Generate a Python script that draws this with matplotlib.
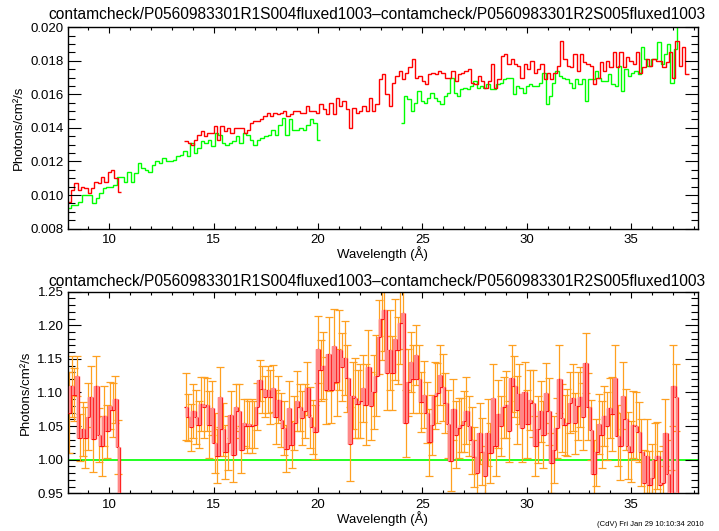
import numpy as np
import matplotlib
matplotlib.use('Agg')
import matplotlib.pyplot as plt
from matplotlib.ticker import MultipleLocator, FormatStrFormatter

plt.rcParams['font.family'] = ['Liberation Sans', 'DejaVu Sans']

title = 'contamcheck/P0560983301R1S004fluxed1003\u2013contamcheck/P0560983301R2S005fluxed1003'
stamp = '(CdV) Fri Jan 29 10:10:34 2010'

# R1 fluxed spectrum (red), two pieces, wavelength range in Angstrom
r1_a_range = (8.0, 10.56)
r1_a = [0.0096, 0.0103, 0.0107, 0.0103, 0.0105, 0.0104, 0.0101, 0.0104, 0.0108, 0.0107,
        0.0111, 0.0108, 0.0114, 0.0115, 0.0110, 0.0102]
r1_b_range = (13.59, 37.75)
r1_b = [0.0132, 0.0131, 0.0130, 0.0133, 0.0136, 0.0138, 0.0135, 0.0137, 0.0137, 0.0141,
        0.0133, 0.0141, 0.0138,
        0.0140, 0.0137, 0.0140, 0.0140, 0.0140, 0.0137, 0.0139, 0.0143, 0.0144, 0.0144,
        0.0145, 0.0147, 0.0149, 0.0147, 0.0149, 0.0148, 0.0149, 0.0150, 0.0147, 0.0148,
        0.0150, 0.0150, 0.0149, 0.0149, 0.0153, 0.0150, 0.0150, 0.0149, 0.0154, 0.0151,
        0.0148, 0.0155, 0.0148, 0.0158, 0.0153, 0.0156, 0.0151, 0.0140, 0.0152, 0.0149,
        0.0150, 0.0153, 0.0150, 0.0158, 0.0150, 0.0154, 0.0169, 0.0172, 0.0160,
        0.0153, 0.0167, 0.0171, 0.0174, 0.0169, 0.0173, 0.0176, 0.0181, 0.0170, 0.0171,
        0.0168, 0.0166, 0.0172, 0.0173, 0.0172, 0.0174, 0.0173, 0.0170, 0.0170, 0.0174,
        0.0168, 0.0172, 0.0173, 0.0174, 0.0175, 0.0167, 0.0166, 0.0171, 0.0168, 0.0164,
        0.0168, 0.0178, 0.0164, 0.0169, 0.0183, 0.0184, 0.0178, 0.0181, 0.0178, 0.0177,
        0.0170, 0.0178, 0.0175, 0.0180, 0.0173, 0.0175, 0.0178, 0.0169,
        0.0173, 0.0169, 0.0173, 0.0177, 0.0192, 0.0181, 0.0177, 0.0176, 0.0184, 0.0174,
        0.0184, 0.0179, 0.0178, 0.0177, 0.0166, 0.0170, 0.0179, 0.0174, 0.0180, 0.0176,
        0.0185, 0.0176, 0.0185, 0.0176, 0.0182, 0.0180, 0.0178, 0.0185, 0.0173, 0.0176,
        0.0181, 0.0177, 0.0181, 0.0180, 0.0180, 0.0176, 0.0179, 0.0185, 0.0170, 0.0192,
        0.0177, 0.0188, 0.0172]

# R2 fluxed spectrum (green)
r2_a_range = (8.0, 20.1)
r2_a = [0.0092, 0.0094, 0.0094, 0.0096, 0.0100, 0.0100, 0.0100, 0.0095, 0.0098, 0.0101,
        0.0104, 0.0105, 0.0105, 0.0106, 0.0111, 0.0111, 0.0108, 0.0114, 0.0108, 0.0113,
        0.0119, 0.0116, 0.0115, 0.0114, 0.0118, 0.0120, 0.0119, 0.0122, 0.0120, 0.0120,
        0.0121, 0.0123, 0.0124, 0.0126, 0.0123, 0.0131, 0.0125, 0.0128, 0.0132, 0.0131,
        0.0133, 0.0129, 0.0137,
        0.0136, 0.0131, 0.0130, 0.0131, 0.0132, 0.0135, 0.0131, 0.0137, 0.0136, 0.0133,
        0.0130, 0.0133, 0.0134, 0.0135, 0.0136, 0.0139, 0.0136, 0.0142, 0.0146, 0.0136,
        0.0145, 0.0139, 0.0139, 0.0140, 0.0139, 0.0142, 0.0145, 0.0143, 0.0133]
r2_b_range = (23.97, 37.35)
r2_b = [0.0143, 0.0159, 0.0157, 0.0150, 0.0155, 0.0162, 0.0156, 0.0155, 0.0158, 0.0161,
        0.0158, 0.0156, 0.0154, 0.0159, 0.0161, 0.0170, 0.0161, 0.0159, 0.0163, 0.0164,
        0.0163, 0.0165, 0.0168, 0.0164, 0.0165, 0.0164, 0.0166, 0.0163, 0.0163, 0.0166,
        0.0167, 0.0169, 0.0170, 0.0170, 0.0160, 0.0165, 0.0164, 0.0161, 0.0165, 0.0166,
        0.0165, 0.0165, 0.0167, 0.0173, 0.0154,
        0.0159, 0.0167, 0.0174, 0.0171, 0.0170, 0.0169, 0.0167, 0.0164, 0.0169, 0.0166,
        0.0169, 0.0156, 0.0169, 0.0169, 0.0174, 0.0170, 0.0168, 0.0168, 0.0172, 0.0166,
        0.0165, 0.0177, 0.0162, 0.0175, 0.0171, 0.0173, 0.0174, 0.0172, 0.0188, 0.0181,
        0.0177, 0.0181, 0.0181, 0.0191, 0.0178, 0.0184, 0.0190, 0.0167, 0.0187, 0.0215]

# ratio R1/R2 with errors
ratio_a_range = (8.0, 10.62)
ratio_a = [1.070, 1.109, 1.097, 1.125, 1.033, 1.046, 1.033, 1.064, 1.094, 1.031,
           1.109, 1.037, 1.020, 1.065, 1.042, 1.080, 1.074, 1.090, 1.019, 0.850]
ratio_a_err = [0.060, 0.045, 0.040, 0.030, 0.035, 0.040, 0.045, 0.050, 0.045, 0.050,
               0.045, 0.040, 0.045, 0.045, 0.040, 0.035, 0.040, 0.035, 0.040, 0.040]
ratio_b_range = (13.59, 37.33)
ratio_b = [1.079, 1.063, 1.048, 1.072, 1.064, 1.052, 1.083, 1.078, 1.082, 1.052,
           1.077, 1.025, 1.005, 1.093, 1.045, 1.012,
           1.025, 1.067, 1.007, 1.078, 1.072, 1.015, 1.055, 1.050, 1.053, 1.050,
           1.052, 1.079, 1.118, 1.105, 1.094, 1.104, 1.093, 1.106, 1.063, 1.089,
           1.059, 1.047, 1.016, 1.077, 1.022, 1.055, 1.087, 1.078, 1.062, 1.072,
           1.106, 1.063, 1.049, 1.041, 1.164, 1.133, 1.140, 1.103, 1.157, 1.104,
           1.169, 1.115, 1.163, 1.138, 1.151, 1.121, 1.024, 1.095, 1.092, 1.083,
           1.088, 1.106, 1.082, 1.138, 1.080, 1.101, 1.125, 1.182, 1.209, 1.222, 1.129,
           1.163, 1.129, 1.179, 1.163, 1.203, 1.219, 1.054, 1.115, 1.145, 1.120,
           1.156, 1.120, 1.086, 1.097, 1.070, 1.026, 1.052, 1.095, 1.099, 1.126,
           1.108, 1.084, 1.053, 0.998, 1.075, 1.037, 1.047, 1.052, 1.057, 1.073,
           1.050, 1.029, 1.004, 0.980, 1.039, 1.012, 0.976, 1.040, 1.010, 1.092,
           1.021, 1.068, 1.050, 1.078, 1.082, 1.042, 1.121, 1.109, 1.074, 1.098,
           1.047, 1.101, 1.053, 1.089, 1.084, 1.020, 1.045, 1.072, 1.037, 1.099,
           1.072, 0.995, 1.015, 1.047, 1.120, 1.062, 1.052, 1.055, 1.085, 1.092,
           1.054, 1.080, 1.093, 1.064, 1.144, 1.079, 1.044, 0.979, 1.011, 1.053,
           1.037, 1.065, 1.050, 1.077, 1.068, 1.121, 1.036, 1.020, 1.095, 1.060,
           1.021, 1.012, 1.052, 1.050, 1.041, 1.011, 0.965, 1.006, 0.963, 0.973,
           0.999, 1.006, 0.963, 0.965, 1.040, 0.979, 0.930, 1.110, 1.093, 0.850]
ratio_b_err = [0.050, 0.035, 0.035, 0.040, 0.040, 0.035, 0.040, 0.045, 0.040, 0.050,
               0.040, 0.045, 0.040, 0.045, 0.040, 0.040,
               0.040, 0.035, 0.040, 0.035, 0.040, 0.035, 0.035, 0.040, 0.035, 0.040,
               0.035, 0.035, 0.030, 0.035, 0.030, 0.035, 0.040, 0.035, 0.040, 0.035,
               0.040, 0.040, 0.035, 0.040, 0.035, 0.040, 0.045, 0.035, 0.040, 0.040,
               0.040, 0.045, 0.040, 0.040, 0.050, 0.045, 0.050, 0.050, 0.055, 0.050,
               0.055, 0.050, 0.060, 0.050, 0.055, 0.050, 0.055, 0.050, 0.060, 0.050,
               0.055, 0.050, 0.060, 0.055, 0.050, 0.055, 0.060, 0.055, 0.060, 0.060, 0.055,
               0.060, 0.055, 0.060, 0.050, 0.060, 0.055, 0.050, 0.050, 0.045, 0.050,
               0.045, 0.050, 0.045, 0.050, 0.045, 0.050, 0.045, 0.050, 0.045, 0.045,
               0.050, 0.045, 0.050, 0.045, 0.045, 0.050, 0.045, 0.040, 0.045, 0.050,
               0.045, 0.050, 0.045, 0.050, 0.045, 0.050, 0.045, 0.050, 0.045, 0.050,
               0.045, 0.050, 0.045, 0.045, 0.050, 0.045, 0.050, 0.045, 0.050, 0.045,
               0.050, 0.045, 0.050, 0.045, 0.050, 0.045, 0.050, 0.045, 0.050, 0.045,
               0.050, 0.045, 0.050, 0.045, 0.050, 0.050, 0.045, 0.050, 0.045, 0.050,
               0.045, 0.050, 0.045, 0.050, 0.045, 0.050, 0.045, 0.050, 0.050, 0.045,
               0.050, 0.045, 0.050, 0.045, 0.055, 0.050, 0.045, 0.050, 0.050, 0.045,
               0.050, 0.045, 0.050, 0.050, 0.045, 0.050, 0.050, 0.055, 0.050, 0.050,
               0.055, 0.050, 0.050, 0.055, 0.050, 0.050, 0.055, 0.060, 0.050, 0.040]


def edges_of(rng, vals):
    return np.linspace(rng[0], rng[1], len(vals) + 1)


def style_axes(ax, ymaj, yminor, yfmt):
    ax.set_xlim(8.0, 38.2)
    ax.xaxis.set_major_locator(MultipleLocator(5))
    ax.xaxis.set_minor_locator(MultipleLocator(1))
    ax.yaxis.set_major_locator(MultipleLocator(ymaj))
    ax.yaxis.set_minor_locator(MultipleLocator(yminor))
    ax.yaxis.set_major_formatter(FormatStrFormatter(yfmt))
    ax.tick_params(axis='both', which='both', direction='in', top=True, right=True,
                   labelsize=9.5, color='black')
    ax.tick_params(axis='x', which='major', length=4.5, width=0.8, pad=4)
    ax.tick_params(axis='x', which='minor', length=2.5, width=0.8)
    ax.tick_params(axis='y', which='major', length=9.5, width=0.8, pad=3)
    ax.tick_params(axis='y', which='minor', length=5, width=0.8)
    for s in ax.spines.values():
        s.set_linewidth(1.0)
    ax.set_xlabel('Wavelength (\u00c5)', fontsize=9.5, labelpad=0)
    ax.set_ylabel('Photons/cm\u00b2/s', fontsize=9.5, labelpad=4)


fig = plt.figure(figsize=(7.19, 5.31), dpi=100)
ax1 = fig.add_axes([0.0939, 0.5695, 0.8769, 0.3793])
ax2 = fig.add_axes([0.0939, 0.0710, 0.8769, 0.3797])

# top panel: both fluxed spectra
for rng, vals in [(r2_a_range, r2_a), (r2_b_range, r2_b)]:
    ax1.stairs(vals, edges_of(rng, vals), baseline=None, color='#00ff00', lw=1.0)
for rng, vals in [(r1_a_range, r1_a), (r1_b_range, r1_b)]:
    ax1.stairs(vals, edges_of(rng, vals), baseline=None, color='#ff0000', lw=1.0)
ax1.set_ylim(0.008, 0.020)
style_axes(ax1, 0.002, 0.0005, '%.3f')

# bottom panel: ratio with errors
ax2.axhline(1.0, color='#22ff22', lw=1.4, zorder=1)
for rng, vals, errs in [(ratio_a_range, ratio_a, ratio_a_err),
                        (ratio_b_range, ratio_b, ratio_b_err)]:
    e = edges_of(rng, vals)
    v = np.asarray(vals)
    mid = 0.5 * (e[:-1] + e[1:])
    ax2.errorbar(mid, v, yerr=errs, fmt='none', ecolor='#ffa020', elinewidth=0.9,
                 capsize=2.6, capthick=0.9, zorder=2)
    ax2.stairs(v, e, baseline=None, color='#ff0000', lw=0.9, zorder=3)
    lo = np.minimum(v[:-1], v[1:])
    hi = np.maximum(v[:-1], v[1:])
    ax2.vlines(e[1:-1], lo, hi, color='#ff2020', lw=2.4, capstyle='butt', zorder=4)
    ax2.vlines(e[1:-1], lo, hi, color='#ff8888', lw=1.5, capstyle='butt', zorder=5)
ax2.set_ylim(0.95, 1.25)
style_axes(ax2, 0.05, 0.01, '%.2f')

fig.text(0.5237, 0.9735, title, ha='center', va='center', fontsize=11.2)
fig.text(0.5237, 0.4695, title, ha='center', va='center', fontsize=11.2)
fig.text(0.978, 0.013, stamp, ha='right', va='center', fontsize=5.5)

fig.savefig('out.png', dpi=100)
